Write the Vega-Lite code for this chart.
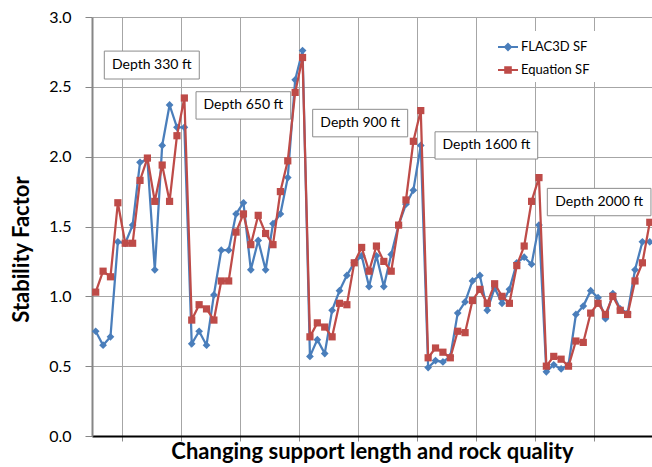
{
  "$schema": "https://vega.github.io/schema/vega-lite/v6.json",
  "width": 560,
  "height": 419,
  "autosize": {"type": "none"},
  "padding": {"left": 92, "top": 17, "right": 0, "bottom": 31},
  "background": "white",
  "config": {"view": {"stroke": null}, "font": "Lato"},
  "layer": [
    {
      "data": {"values": [
        {"i":0,"FLAC3D SF":0.75,"Equation SF":1.03},
        {"i":1,"FLAC3D SF":0.65,"Equation SF":1.18},
        {"i":2,"FLAC3D SF":0.71,"Equation SF":1.14},
        {"i":3,"FLAC3D SF":1.39,"Equation SF":1.67},
        {"i":4,"FLAC3D SF":1.38,"Equation SF":1.38},
        {"i":5,"FLAC3D SF":1.51,"Equation SF":1.38},
        {"i":6,"FLAC3D SF":1.96,"Equation SF":1.83},
        {"i":7,"FLAC3D SF":1.98,"Equation SF":1.99},
        {"i":8,"FLAC3D SF":1.19,"Equation SF":1.68},
        {"i":9,"FLAC3D SF":2.08,"Equation SF":1.94},
        {"i":10,"FLAC3D SF":2.37,"Equation SF":1.68},
        {"i":11,"FLAC3D SF":2.21,"Equation SF":2.15},
        {"i":12,"FLAC3D SF":2.21,"Equation SF":2.42},
        {"i":13,"FLAC3D SF":0.66,"Equation SF":0.83},
        {"i":14,"FLAC3D SF":0.75,"Equation SF":0.94},
        {"i":15,"FLAC3D SF":0.65,"Equation SF":0.91},
        {"i":16,"FLAC3D SF":1.01,"Equation SF":0.83},
        {"i":17,"FLAC3D SF":1.33,"Equation SF":1.11},
        {"i":18,"FLAC3D SF":1.33,"Equation SF":1.11},
        {"i":19,"FLAC3D SF":1.59,"Equation SF":1.46},
        {"i":20,"FLAC3D SF":1.67,"Equation SF":1.59},
        {"i":21,"FLAC3D SF":1.19,"Equation SF":1.37},
        {"i":22,"FLAC3D SF":1.40,"Equation SF":1.58},
        {"i":23,"FLAC3D SF":1.19,"Equation SF":1.45},
        {"i":24,"FLAC3D SF":1.52,"Equation SF":1.37},
        {"i":25,"FLAC3D SF":1.59,"Equation SF":1.75},
        {"i":26,"FLAC3D SF":1.85,"Equation SF":1.97},
        {"i":27,"FLAC3D SF":2.55,"Equation SF":2.46},
        {"i":28,"FLAC3D SF":2.76,"Equation SF":2.71},
        {"i":29,"FLAC3D SF":0.57,"Equation SF":0.71},
        {"i":30,"FLAC3D SF":0.69,"Equation SF":0.81},
        {"i":31,"FLAC3D SF":0.59,"Equation SF":0.78},
        {"i":32,"FLAC3D SF":0.90,"Equation SF":0.71},
        {"i":33,"FLAC3D SF":1.04,"Equation SF":0.95},
        {"i":34,"FLAC3D SF":1.15,"Equation SF":0.94},
        {"i":35,"FLAC3D SF":1.24,"Equation SF":1.24},
        {"i":36,"FLAC3D SF":1.29,"Equation SF":1.35},
        {"i":37,"FLAC3D SF":1.07,"Equation SF":1.18},
        {"i":38,"FLAC3D SF":1.29,"Equation SF":1.36},
        {"i":39,"FLAC3D SF":1.07,"Equation SF":1.25},
        {"i":40,"FLAC3D SF":1.30,"Equation SF":1.18},
        {"i":41,"FLAC3D SF":1.51,"Equation SF":1.51},
        {"i":42,"FLAC3D SF":1.66,"Equation SF":1.69},
        {"i":43,"FLAC3D SF":1.76,"Equation SF":2.11},
        {"i":44,"FLAC3D SF":2.08,"Equation SF":2.33},
        {"i":45,"FLAC3D SF":0.49,"Equation SF":0.56},
        {"i":46,"FLAC3D SF":0.54,"Equation SF":0.63},
        {"i":47,"FLAC3D SF":0.53,"Equation SF":0.60},
        {"i":48,"FLAC3D SF":0.57,"Equation SF":0.56},
        {"i":49,"FLAC3D SF":0.88,"Equation SF":0.75},
        {"i":50,"FLAC3D SF":0.96,"Equation SF":0.74},
        {"i":51,"FLAC3D SF":1.11,"Equation SF":0.97},
        {"i":52,"FLAC3D SF":1.15,"Equation SF":1.05},
        {"i":53,"FLAC3D SF":0.90,"Equation SF":0.95},
        {"i":54,"FLAC3D SF":1.06,"Equation SF":1.09},
        {"i":55,"FLAC3D SF":0.95,"Equation SF":1.00},
        {"i":56,"FLAC3D SF":1.05,"Equation SF":0.95},
        {"i":57,"FLAC3D SF":1.24,"Equation SF":1.22},
        {"i":58,"FLAC3D SF":1.28,"Equation SF":1.36},
        {"i":59,"FLAC3D SF":1.23,"Equation SF":1.68},
        {"i":60,"FLAC3D SF":1.51,"Equation SF":1.85},
        {"i":61,"FLAC3D SF":0.46,"Equation SF":0.50},
        {"i":62,"FLAC3D SF":0.51,"Equation SF":0.57},
        {"i":63,"FLAC3D SF":0.48,"Equation SF":0.55},
        {"i":64,"FLAC3D SF":0.51,"Equation SF":0.50},
        {"i":65,"FLAC3D SF":0.87,"Equation SF":0.68},
        {"i":66,"FLAC3D SF":0.93,"Equation SF":0.67},
        {"i":67,"FLAC3D SF":1.04,"Equation SF":0.88},
        {"i":68,"FLAC3D SF":0.99,"Equation SF":0.95},
        {"i":69,"FLAC3D SF":0.84,"Equation SF":0.87},
        {"i":70,"FLAC3D SF":1.02,"Equation SF":1.00},
        {"i":71,"FLAC3D SF":0.91,"Equation SF":0.90},
        {"i":72,"FLAC3D SF":0.88,"Equation SF":0.87},
        {"i":73,"FLAC3D SF":1.19,"Equation SF":1.11},
        {"i":74,"FLAC3D SF":1.39,"Equation SF":1.24},
        {"i":75,"FLAC3D SF":1.39,"Equation SF":1.53}
      ]},
      "transform": [{"fold": ["FLAC3D SF", "Equation SF"], "as": ["series", "sf"]}],
      "encoding": {
        "x": {
          "field": "i", "type": "quantitative",
          "scale": {"domain": [-0.5, 75.3], "nice": false, "zero": false},
          "axis": {
            "values": [3.5,7.5,11.5,15.5,19.5,23.5,27.5,31.5,35.5,39.5,43.5,47.5,51.5,55.5,59.5,63.5,67.5,71.5],
            "labels": false, "grid": true, "gridColor": "#a6a6a6", "gridWidth": 1,
            "ticks": true, "tickSize": 5, "tickColor": "#8c8c8c", "tickWidth": 1,
            "domainColor": "#000000", "domainWidth": 2,
            "title": "Changing support length and rock quality",
            "titleFont": "Lato", "titleFontSize": 22, "titleFontWeight": "bold", "titleColor": "#000000",
            "titleBaseline": "alphabetic", "titleY": 22, "titleX": 280, "titleAlign": "center"
          }
        },
        "y": {
          "field": "sf", "type": "quantitative",
          "scale": {"domain": [0, 3], "nice": false, "zero": true},
          "axis": {
            "values": [0, 0.5, 1, 1.5, 2, 2.5, 3], "format": ".1f",
            "grid": true, "gridColor": "#a6a6a6", "gridWidth": 1,
            "tickSize": 7, "tickColor": "#868686", "tickWidth": 1,
            "domainColor": "#868686", "domainWidth": 2,
            "labelFont": "Lato", "labelFontSize": 16, "labelColor": "#000000", "labelPadding": 14,
            "title": "Stability Factor",
            "titleFont": "Lato", "titleFontSize": 22, "titleFontWeight": "bold", "titleColor": "#000000",
            "titleAngle": 270, "titleAlign": "center", "titleBaseline": "alphabetic",
            "titleX": -64, "titleY": 232
          }
        },
        "color": {
          "field": "series", "type": "nominal",
          "scale": {"domain": ["FLAC3D SF", "Equation SF"], "range": ["#4A7EBB", "#BE4B48"]},
          "legend": {
            "orient": "none", "legendX": 400, "legendY": 14, "title": null,
            "fillColor": "white", "padding": 5, "symbolSize": 400, "rowPadding": 5,
            "labelFont": "Lato", "labelFontSize": 13, "labelColor": "#000000", "labelOffset": 2,
            "symbolStrokeWidth": 2,
            "encode": {
              "symbols": {
                "update": {
                  "shape": {"signal": "datum.value === 'FLAC3D SF' ? 'M-1,0H1M0,-0.3L0.3,0L0,0.3L-0.3,0Z' : 'M-1,0H1M-0.28,-0.28H0.28V0.28H-0.28Z'"},
                  "fill": {"signal": "datum.value === 'FLAC3D SF' ? '#4F81BD' : '#C0504D'"},
                  "stroke": {"signal": "datum.value === 'FLAC3D SF' ? '#4A7EBB' : '#BE4B48'"},
                  "strokeWidth": {"value": 2},
                  "opacity": {"value": 1}
                }
              }
            }
          }
        }
      },
      "layer": [
        {"transform": [{"filter": "datum.series === 'FLAC3D SF'"}], "mark": {"type": "line", "strokeWidth": 2.25}},
        {"transform": [{"filter": "datum.series === 'FLAC3D SF'"}], "mark": {"type": "point", "shape": "diamond", "filled": true, "size": 60, "opacity": 1}},
        {"transform": [{"filter": "datum.series === 'Equation SF'"}], "mark": {"type": "line", "strokeWidth": 2.25}},
        {"transform": [{"filter": "datum.series === 'Equation SF'"}], "mark": {"type": "point", "shape": "square", "filled": true, "size": 52, "opacity": 1}}
      ]
    },
    {
      "data": {"values": [
        {"label": "Depth 330 ft", "x1": 1.165, "x2": 14.02, "y1": 2.756, "y2": 2.556, "xc": 7.59, "yc": 2.656},
        {"label": "Depth 650 ft", "x1": 13.58, "x2": 26.40, "y1": 2.465, "y2": 2.269, "xc": 19.99, "yc": 2.367},
        {"label": "Depth 900 ft", "x1": 29.37, "x2": 42.23, "y1": 2.339, "y2": 2.142, "xc": 35.8, "yc": 2.24},
        {"label": "Depth 1600 ft", "x1": 45.93, "x2": 59.83, "y1": 2.178, "y2": 1.983, "xc": 52.88, "yc": 2.08},
        {"label": "Depth 2000 ft", "x1": 61.13, "x2": 75.16, "y1": 1.773, "y2": 1.577, "xc": 68.15, "yc": 1.675}
      ]},
      "layer": [
        {
          "mark": {"type": "rect", "fill": "white", "stroke": "#8c8c8c", "strokeWidth": 1},
          "encoding": {
            "x": {"field": "x1", "type": "quantitative", "scale": {"domain": [-0.5, 75.3], "nice": false, "zero": false}},
            "x2": {"field": "x2"},
            "y": {"field": "y1", "type": "quantitative", "scale": {"domain": [0, 3], "nice": false, "zero": true}},
            "y2": {"field": "y2"}
          }
        },
        {
          "mark": {"type": "text", "font": "Lato", "fontSize": 14, "color": "#000000", "align": "center", "baseline": "middle"},
          "encoding": {
            "x": {"field": "xc", "type": "quantitative", "scale": {"domain": [-0.5, 75.3], "nice": false, "zero": false}},
            "y": {"field": "yc", "type": "quantitative", "scale": {"domain": [0, 3], "nice": false, "zero": true}},
            "text": {"field": "label"}
          }
        }
      ]
    }
  ]
}
